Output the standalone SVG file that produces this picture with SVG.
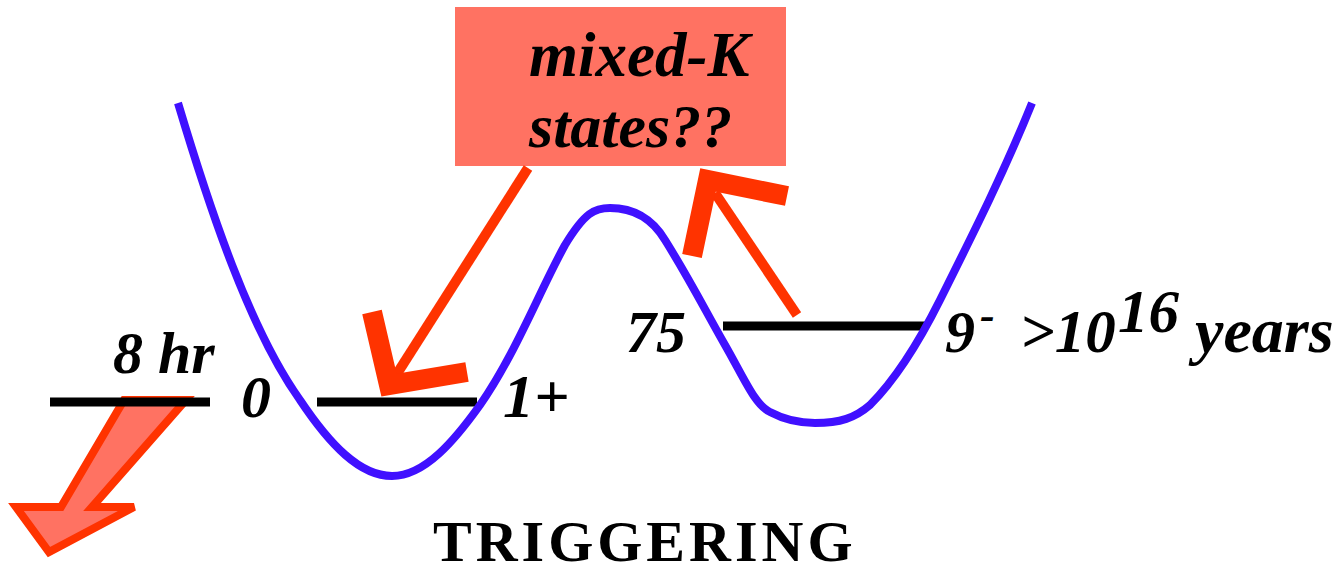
<svg xmlns="http://www.w3.org/2000/svg" width="1343" height="572" viewBox="0 0 1343 572">
<style>
.lbl{font-family:"Liberation Serif","Times New Roman",serif;font-weight:bold;font-style:italic;fill:#000}
.lvl{stroke:#000;stroke-width:9;fill:none}
.red{stroke:#FF3300;fill:none}
</style>
<rect width="1343" height="572" fill="#fff"/>
<g id="decay-arrow">
<path d="M124,400 L186,400 L92,507 L134,507 L49,552 L16,507 L61,507 Z" fill="#FF7262" stroke="#FF3300" stroke-width="8" stroke-linejoin="miter"/>
</g>
<g id="box">
<rect x="455" y="7" width="331" height="159" fill="#FF7262"/>
<text class="lbl" x="529" y="76" font-size="63">mixed-K</text>
<text class="lbl" x="529" y="147" font-size="62">states??</text>
</g>
<g id="levels">
<line class="lvl" x1="50" y1="402" x2="210" y2="402"/>
<line class="lvl" x1="317" y1="402" x2="477" y2="402"/>
<line class="lvl" x1="723" y1="326" x2="925" y2="326"/>
</g>
<g id="potential">
<path d="M178,103 C210,210 250,330 300,400 C330,445 360,476 392,476 C425,476 455,440 480,405 C515,355 540,290 565,245 C585,212 595,208 610,208 C630,208 650,215 665,240 C690,280 705,310 725,345 C745,380 755,405 770,412 C785,420 800,423 815,423 C840,423 855,418 870,405 C895,380 920,340 940,300 C975,230 1005,170 1032,103" fill="none" stroke="#4010FF" stroke-width="8"/>
</g>
<g id="connectors">
<line class="red" x1="528" y1="168" x2="393" y2="380" stroke-width="10"/>
<polyline class="red" points="372,312 389,385 467,372" stroke-width="20" stroke-linejoin="miter"/>
<line class="red" x1="797" y1="315" x2="715" y2="193" stroke-width="10"/>
<polyline class="red" points="692,256 708,180 787,196" stroke-width="20" stroke-linejoin="miter"/>
</g>
<g id="labels">
<text class="lbl" x="113" y="373" font-size="60">8 hr</text>
<text class="lbl" x="241" y="417" font-size="60">0</text>
<text class="lbl" x="503" y="417" font-size="62">1+</text>
<text class="lbl" x="626" y="352" font-size="60">75</text>
<text class="lbl" x="945" y="352" font-size="60">9</text>
<text class="lbl" x="980" y="330" font-size="44">-</text>
<text class="lbl" x="1020" y="352" font-size="61">&gt;10</text>
<text class="lbl" x="1118" y="332" font-size="61">16</text>
<text class="lbl" x="1195" y="352" font-size="64">years</text>
</g>
<g id="title">
<text x="433" y="561" font-family="Liberation Serif, Times New Roman, serif" font-weight="bold" font-size="58" letter-spacing="4">TRIGGERING</text>
</g>
</svg>
